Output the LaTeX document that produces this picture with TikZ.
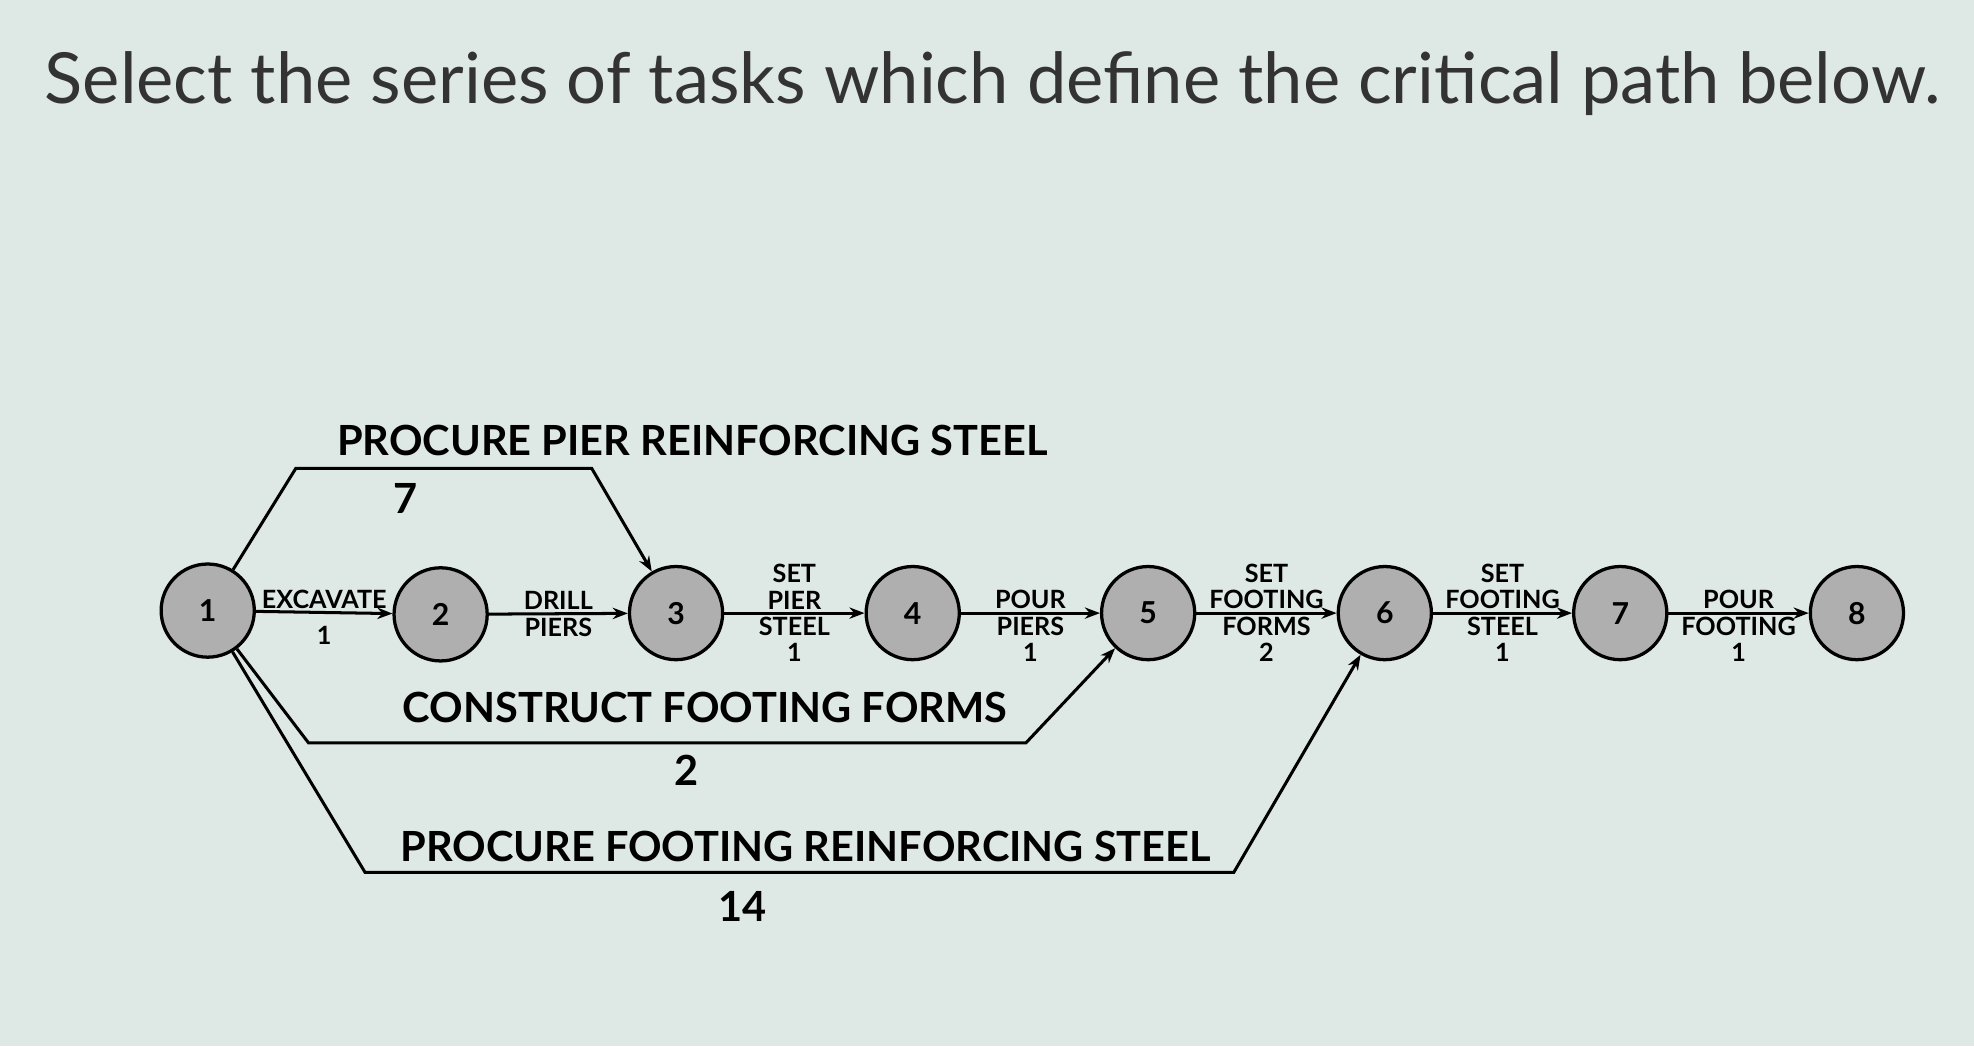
\documentclass[tikz,border=0pt]{standalone}
\usepackage{fontspec}
\setmainfont{Lato}
\usetikzlibrary{arrows.meta}
\definecolor{bg}{RGB}{222,232,228}
\definecolor{nd}{RGB}{175,175,175}
\tikzset{
 ev/.style={circle,draw=black,line width=2.6pt,fill=nd,minimum size=74pt,inner sep=0pt,font=\fontsize{24}{24}\selectfont\bfseries},
 act/.style={line width=2.4pt,-{Stealth[length=12pt]}},
 lb/.style={font=\fontsize{20}{21}\selectfont\bfseries,align=center,inner sep=2pt},
 big/.style={font=\fontsize{33}{36}\selectfont\bfseries,inner sep=1pt}
}
\begin{document}
\begin{tikzpicture}[x=1pt,y=-1pt]
\fill[bg] (0,0) rectangle (1568,831);
\useasboundingbox (0,0) rectangle (1568,831);
\node[anchor=west,font=\fontsize{56}{60}\selectfont,text=black!80] (title) at (32,66) {Select the series of tasks which define the critical path below.};
\node[ev] (n1) at (165,485) {1};
\node[ev] (n2) at (350,488) {2};
\node[ev] (n3) at (537,487) {3};
\node[ev] (n4) at (725,487) {4};
\node[ev] (n5) at (912,487) {5};
\node[ev] (n6) at (1100,487) {6};
\node[ev] (n7) at (1287,487) {7};
\node[ev] (n8) at (1475,487) {8};
\draw[act] (n1) -- node[lb,above]{EXCAVATE} node[lb,below=8pt]{1} (n2);
\draw[act] (n2) -- node[lb,above]{DRILL} node[lb,below]{PIERS} (n3);
\draw[act] (n3) -- node[lb,above]{SET\\PIER} node[lb,below]{STEEL\\1} (n4);
\draw[act] (n4) -- node[lb,above]{POUR} node[lb,below]{PIERS\\1} (n5);
\draw[act] (n5) -- node[lb,above]{SET\\FOOTING} node[lb,below]{FORMS\\2} (n6);
\draw[act] (n6) -- node[lb,above]{SET\\FOOTING} node[lb,below]{STEEL\\1} (n7);
\draw[act] (n7) -- node[lb,above]{POUR} node[lb,below]{FOOTING\\1} (n8);
\coordinate (a1) at (235,372); \coordinate (a2) at (470,372);
\draw[act] (n1) -- (a1) -- (a2) -- (n3);
\node[big] (l1) at (550,350) {PROCURE PIER REINFORCING STEEL};
\node[big] (d1) at (322,396) {7};
\coordinate (b1) at (245,590); \coordinate (b2) at (815,590);
\draw[act] (n1) -- (b1) -- (b2) -- (n5);
\node[big] (l2) at (560,562) {CONSTRUCT FOOTING FORMS};
\node[big] (d2) at (545,612) {2};
\coordinate (c1) at (290,693); \coordinate (c2) at (980,693);
\draw[act] (n1) -- (c1) -- (c2) -- (n6);
\node[big] (l3) at (640,672) {PROCURE FOOTING REINFORCING STEEL};
\node[big] (d3) at (590,720) {14};
\end{tikzpicture}
\end{document}
